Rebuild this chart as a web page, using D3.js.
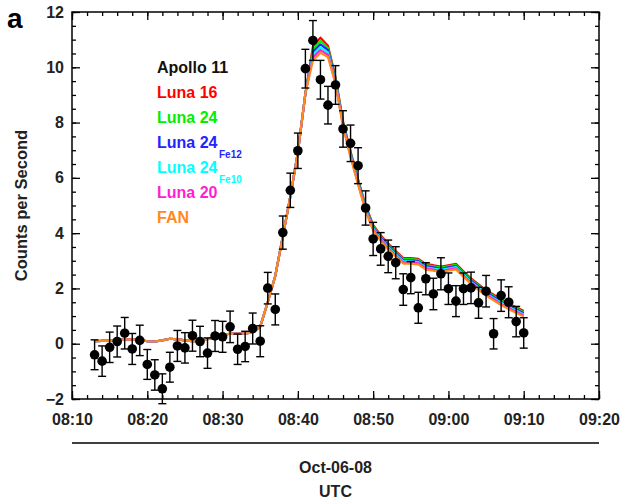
<!DOCTYPE html>
<html><head><meta charset="utf-8">
<script src="https://cdn.jsdelivr.net/npm/d3@7/dist/d3.min.js"></script>
<style>body{margin:0;background:#fff}svg{display:block}</style>
</head><body>
<svg id="chart" width="621" height="500"></svg>
<script>
// ---- data ----
const times = ["08:13","08:14","08:15","08:16","08:17","08:18","08:19","08:20","08:21","08:22",
  "08:23","08:24","08:25","08:26","08:27","08:28","08:29","08:30","08:31","08:32",
  "08:33","08:34","08:35","08:36","08:37","08:38","08:39","08:40","08:41","08:42",
  "08:43","08:44","08:45","08:46","08:47","08:48","08:49","08:50","08:51","08:52",
  "08:53","08:54","08:55","08:56","08:57","08:58","08:59","09:00","09:01","09:02",
  "09:03","09:04","09:05","09:06","09:07","09:08","09:09","09:10"];
const counts = [-0.40,-0.63,-0.13,0.08,0.38,-0.19,0.12,-0.75,-1.13,-1.63,
  -0.85,-0.08,-0.15,0.29,0.08,-0.34,0.28,0.25,0.61,-0.20,
  -0.10,0.55,0.09,2.01,1.24,4.02,5.55,6.98,9.95,10.97,
  9.55,8.63,9.36,7.77,7.25,6.44,4.91,3.79,3.43,3.16,
  2.93,1.96,2.39,1.30,2.35,1.80,2.53,1.99,1.54,1.99,
  2.02,1.48,1.90,0.36,1.74,1.50,0.80,0.39];
const errors = [0.54,0.55,0.55,0.56,0.57,0.56,0.55,0.54,0.55,0.54,
  0.54,0.56,0.55,0.56,0.55,0.55,0.56,0.56,0.57,0.55,
  0.55,0.56,0.56,0.57,0.56,0.60,0.62,0.64,0.70,0.72,
  0.70,0.68,0.70,0.66,0.66,0.65,0.62,0.60,0.59,0.59,
  0.58,0.57,0.58,0.56,0.58,0.57,0.58,0.57,0.56,0.57,
  0.57,0.56,0.57,0.55,0.57,0.56,0.55,0.55];

// model curves: common early part (08:13-08:41), then each model's own tail (08:42-09:10)
const modelEarly = [0.09,0.10,0.11,0.12,0.16,0.16,0.14,0.09,0.08,0.12,
  0.18,0.16,0.12,0.09,0.10,0.16,0.24,0.32,0.36,0.37,
  0.37,0.41,0.62,1.50,2.45,3.88,5.32,6.92,9.05];
const luna16Tail = [10.75,11.07,10.78,9.65,8.05,6.95,5.95,5.00,4.30,3.92,3.62,3.35,3.10,3.10,3.07,2.88,2.84,2.79,2.84,2.89,2.62,2.36,2.15,1.94,1.77,1.60,1.45,1.32,1.18];
const luna24Tail = [10.65,10.95,10.70,9.60,8.01,6.91,5.91,4.96,4.26,3.88,3.58,3.31,3.06,3.06,3.03,2.84,2.80,2.75,2.80,2.85,2.58,2.32,2.11,1.90,1.73,1.56,1.41,1.28,1.14];
const luna24Fe12Tail = [10.55,10.83,10.62,9.55,7.97,6.87,5.87,4.92,4.22,3.84,3.54,3.27,3.02,3.02,2.99,2.80,2.76,2.71,2.76,2.81,2.54,2.28,2.07,1.86,1.69,1.52,1.37,1.24,1.10];
const luna24Fe10Tail = [10.45,10.72,10.53,9.50,7.93,6.83,5.83,4.88,4.18,3.80,3.50,3.23,2.98,2.98,2.95,2.76,2.72,2.67,2.72,2.77,2.50,2.24,2.03,1.82,1.65,1.48,1.33,1.20,1.06];
const luna20Tail = [10.35,10.62,10.45,9.45,7.89,6.79,5.79,4.84,4.14,3.76,3.46,3.19,2.94,2.94,2.91,2.72,2.68,2.63,2.68,2.73,2.46,2.20,1.99,1.78,1.61,1.44,1.29,1.16,1.02];
const fanTail = [10.25,10.52,10.37,9.40,7.85,6.75,5.75,4.80,4.10,3.72,3.42,3.15,2.90,2.90,2.87,2.68,2.64,2.59,2.64,2.69,2.42,2.16,1.95,1.74,1.57,1.40,1.25,1.12,0.98];

const dataName = "Apollo 11";
const modelNames = ["Luna 16","Luna 24","Luna 24","Luna 24","Luna 20","FAN"];
const modelSubs = ["","","Fe12","Fe10","",""];
const modelColors = ["#ff0000","#00ee00","#2424ff","#00ffff","#ff1ed2","#ff8a1c"];
const modelTails = [luna16Tail,luna24Tail,luna24Fe12Tail,luna24Fe10Tail,luna20Tail,fanTail];

const xTickLabels = ["08:10","08:20","08:30","08:40","08:50","09:00","09:10","09:20"];
const yTickValues = [-2,0,2,4,6,8,10,12];
const dateLabel = "Oct-06-08";
const unitLabel = "UTC";
const yTitle = "Counts per Second";
const panelLabel = "a";

// ---- helpers ----
const toMin = s => { const [h,m] = s.split(":").map(Number); return h*60+m-480; };
const tMin = times.map(toMin);
const xTickVals = xTickLabels.map(toMin);
const xMinor = d3.range(xTickVals[0], xTickVals[xTickVals.length-1]+0.001, 2);
const yMinor = d3.range(-2, 12.001, 0.5);

const L = 72, R = 599, T = 12, B = 399;
const x = d3.scaleLinear().domain([xTickVals[0], xTickVals[xTickVals.length-1]]).range([L, R]);
const y = d3.scaleLinear().domain([-2, 12]).range([B, T]);

const svg = d3.select("#chart");
const FONT = "'Liberation Sans', Arial, Helvetica, sans-serif";
const TXT = "#222";

// model lines
const line = d3.line().x(d => x(d[0])).y(d => y(d[1]));
modelTails.forEach((tail, k) => {
  const vals = modelEarly.concat(tail);
  svg.append("path")
    .datum(vals.map((v,i) => [tMin[i], v]))
    .attr("d", line)
    .attr("fill","none")
    .attr("stroke", modelColors[k])
    .attr("stroke-width", 2.2)
    .attr("stroke-linejoin","round");
});

// error bars + points
const pts = svg.append("g");
counts.forEach((v,i) => {
  const cx = x(tMin[i]);
  const y1 = y(v + errors[i]), y2 = y(v - errors[i]);
  pts.append("line").attr("x1",cx).attr("x2",cx).attr("y1",y1).attr("y2",y2).attr("stroke","#000").attr("stroke-width",1.4);
  pts.append("line").attr("x1",cx-4).attr("x2",cx+4).attr("y1",y1).attr("y2",y1).attr("stroke","#000").attr("stroke-width",1.4);
  pts.append("line").attr("x1",cx-4).attr("x2",cx+4).attr("y1",y2).attr("y2",y2).attr("stroke","#000").attr("stroke-width",1.4);
  pts.append("circle").attr("cx",cx).attr("cy",y(v)).attr("r",4.8).attr("fill","#000");
});

// axes
function styleAxis(g){
  g.select(".domain").remove();
  g.selectAll(".tick line").attr("stroke","#000").attr("stroke-width",1.3);
  g.selectAll("text").attr("font-family",FONT).attr("font-weight","bold").attr("font-size",16).attr("fill",TXT);
}
const fmtX = d => xTickLabels[xTickVals.indexOf(d)];
svg.append("g").attr("transform",`translate(0,${B})`)
  .call(d3.axisBottom(x).tickValues(xTickVals).tickFormat(fmtX).tickSize(-8).tickPadding(15)).call(styleAxis);
svg.append("g").attr("transform",`translate(0,${B})`)
  .call(d3.axisBottom(x).tickValues(xMinor).tickFormat("").tickSize(-4)).call(styleAxis);
svg.append("g").attr("transform",`translate(0,${T})`)
  .call(d3.axisTop(x).tickValues(xTickVals).tickFormat("").tickSize(-8)).call(styleAxis);
svg.append("g").attr("transform",`translate(0,${T})`)
  .call(d3.axisTop(x).tickValues(xMinor).tickFormat("").tickSize(-4)).call(styleAxis);
svg.append("g").attr("transform",`translate(${L},0)`)
  .call(d3.axisLeft(y).tickValues(yTickValues).tickFormat(d3.format("d")).tickSize(-8).tickPadding(8)).call(styleAxis);
svg.append("g").attr("transform",`translate(${L},0)`)
  .call(d3.axisLeft(y).tickValues(yMinor).tickFormat("").tickSize(-4)).call(styleAxis);
svg.append("g").attr("transform",`translate(${R},0)`)
  .call(d3.axisRight(y).tickValues(yTickValues).tickFormat("").tickSize(-8)).call(styleAxis);
svg.append("g").attr("transform",`translate(${R},0)`)
  .call(d3.axisRight(y).tickValues(yMinor).tickFormat("").tickSize(-4)).call(styleAxis);

// frame
svg.append("rect").attr("x",L).attr("y",T).attr("width",R-L).attr("height",B-T)
  .attr("fill","none").attr("stroke","#000").attr("stroke-width",1.5);

// lower date axis
svg.append("line").attr("x1",L).attr("x2",R).attr("y1",443).attr("y2",443).attr("stroke","#000").attr("stroke-width",1.5);
svg.append("text").attr("x",(L+R)/2).attr("y",473).attr("text-anchor","middle")
  .attr("font-family",FONT).attr("font-weight","bold").attr("font-size",16).attr("fill",TXT).text(dateLabel);
svg.append("text").attr("x",(L+R)/2).attr("y",497).attr("text-anchor","middle")
  .attr("font-family",FONT).attr("font-weight","bold").attr("font-size",16).attr("fill",TXT).text(unitLabel);

// y title
svg.append("text").attr("transform",`translate(27,${(T+B)/2}) rotate(-90)`).attr("text-anchor","middle")
  .attr("font-family",FONT).attr("font-weight","bold").attr("font-size",16.5).attr("fill",TXT).text(yTitle);

// panel label
svg.append("text").attr("x",7).attr("y",28).attr("font-family",FONT).attr("font-weight","bold")
  .attr("font-size",28).attr("fill","#000").text(panelLabel);

// legend
const lg = svg.append("g").attr("font-family",FONT).attr("font-weight","bold");
const legNames = [dataName].concat(modelNames);
const legColors = ["#111"].concat(modelColors);
const legSubs = [""].concat(modelSubs);
legNames.forEach((n,i) => {
  const by = 73 + i*25;
  lg.append("text").attr("x",157).attr("y",by).attr("font-size",16).attr("fill",legColors[i]).text(n);
  if (legSubs[i]) {
    lg.append("text").attr("x",219).attr("y",by+10).attr("font-size",10).attr("fill",legColors[i]).text(legSubs[i]);
  }
});
</script>
</body></html>
